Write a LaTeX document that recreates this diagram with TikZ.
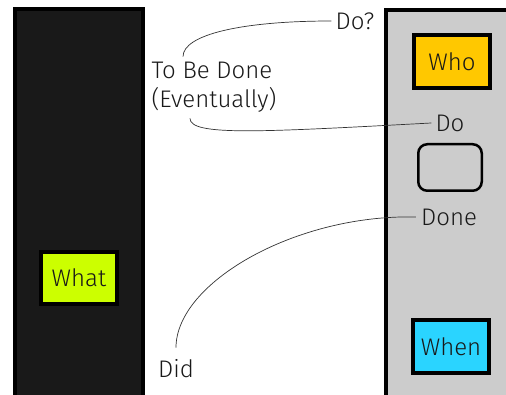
\documentclass[tikz,border=0pt]{standalone}
\usepackage{fontspec}
\setmainfont{Fira Sans}[UprightFont=* Light]
\begin{document}
\begin{tikzpicture}[x=1pt,y=-1pt,
  lbl/.style={font=\fontsize{24}{29}\selectfont, text=black!90, inner sep=0pt},
  colbox/.style={draw=black, line width=4pt, minimum width=76pt, minimum height=52pt, inner sep=0pt, font=\fontsize{24}{29}\selectfont, text=black!90},
  conn/.style={draw=black!80, line width=0.7pt}]
\useasboundingbox (0,0) rectangle (506,395);
\clip (0,0) rectangle (506,395);
% panels
\path[fill=black!90, draw=black, line width=4pt] (15,9) rectangle (143,420);
\path[fill=black!20, draw=black, line width=4pt] (386,10) rectangle (530,420);
% boxes
\node[colbox, fill={rgb,255:red,204;green,255;blue,0}] (what) at (79,278) {What};
\node[colbox, fill={rgb,255:red,255;green,200;blue,0}, minimum height=53pt] (who) at (452,62) {Who};
\node[colbox, fill={rgb,255:red,42;green,212;blue,255}, minimum height=53pt] (when) at (451,346.5) {When};
\node[draw=black, line width=2.5pt, rounded corners=9pt, minimum width=63.5pt, minimum height=46.5pt, inner sep=0pt] (blank) at (450,167.5) {};
% labels
\node[lbl] (doq) at (355,21) {Do?};
\node[lbl] (do) at (450,123) {Do};
\node[lbl] (done) at (449,217) {Done};
\node[lbl] (did) at (176,369) {Did};
\node[lbl, align=left] (tbd) at (214,87) {To Be Done\\(Eventually)};
% connectors
\draw[conn] ([xshift=-31pt,yshift=5pt]tbd.north) .. controls +(0,-22) and +(-90,0) .. ([xshift=-4pt]doq.west);
\draw[conn] ([xshift=-24pt,yshift=-6pt]tbd.south) .. controls +(0,18) and +(-170,9) .. ([xshift=-4pt]do.west);
\draw[conn] ([yshift=12pt]did.north) .. controls +(0,-65) and +(-120,-3) .. ([xshift=-5pt]done.west);
\end{tikzpicture}
\end{document}
